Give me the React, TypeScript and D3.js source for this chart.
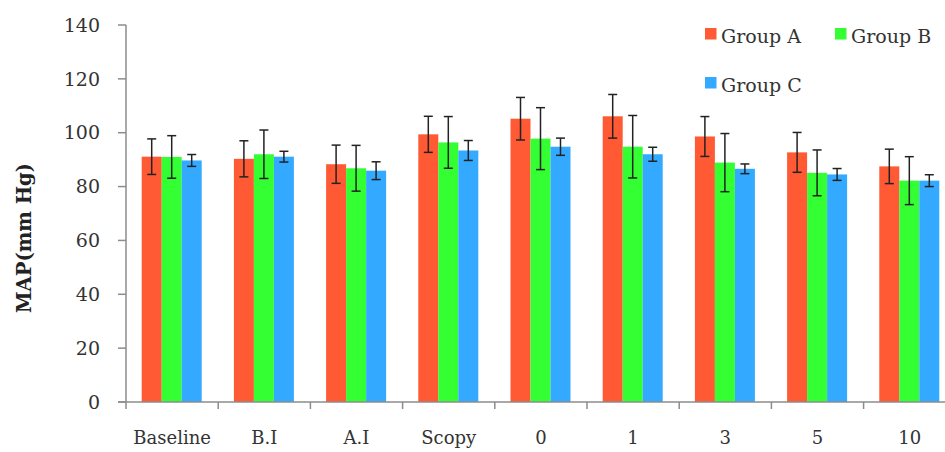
import React from "react";
import * as d3 from "d3";

const categories = ["Baseline", "B.I", "A.I", "Scopy", "0", "1", "3", "5", "10"];
const seriesNames = ["Group A", "Group B", "Group C"];
const groupA = [91.1, 90.3, 88.3, 99.4, 105.2, 106.1, 98.6, 92.7, 87.5];
const groupB = [91.0, 92.0, 86.8, 96.4, 97.8, 94.8, 88.9, 85.1, 82.2];
const groupC = [89.7, 91.1, 85.9, 93.4, 94.8, 92.0, 86.6, 84.5, 82.2];
const errA = [6.6, 6.7, 7.1, 6.7, 7.9, 8.1, 7.4, 7.4, 6.4];
const errB = [7.9, 9.0, 8.5, 9.6, 11.5, 11.6, 10.8, 8.5, 8.9];
const errC = [2.2, 2.0, 3.3, 3.7, 3.2, 2.6, 1.8, 2.2, 2.2];
const yTicks = [0, 20, 40, 60, 80, 100, 120, 140];
const colors = ["#FF5A33", "#33FF33", "#33AAFF"];

const values = [groupA, groupB, groupC];
const errors = [errA, errB, errC];

export default function App() {
  const W = 945, H = 452;
  const x0 = 126, yBottom = 402, yTop = 25;
  const step = 92.2;
  const x = d3.scaleBand<string>().domain(categories).range([x0, x0 + step * categories.length]).paddingInner(0).paddingOuter(0);
  const inner = d3.scaleBand<string>().domain(seriesNames).range([15.7, 75.7]);
  const y = d3.scaleLinear().domain([0, 140]).range([yBottom, yTop]);
  const font = "'DejaVu Serif', serif";
  const cap = 4.5;

  return (
    <svg width={W} height={H} style={{ position: "absolute", left: 0, top: 0, background: "#fff" }}>
      <rect x={0} y={0} width={W} height={H} fill="#fff" />
      {categories.map((c, i) =>
        seriesNames.map((s, k) => {
          const v = values[k][i];
          const bx = (x(c) as number) + (inner(s) as number);
          return (
            <rect key={c + s} x={bx} y={y(v)} width={inner.bandwidth()} height={y(0) - y(v)} fill={colors[k]} />
          );
        })
      )}
      {categories.map((c, i) =>
        seriesNames.map((s, k) => {
          const v = values[k][i];
          const e = errors[k][i];
          const cx = (x(c) as number) + (inner(s) as number) + inner.bandwidth() / 2;
          return (
            <g key={"e" + c + s} stroke="#222" strokeWidth={1.5}>
              <line x1={cx} x2={cx} y1={y(v + e)} y2={y(v - e)} />
              <line x1={cx - cap} x2={cx + cap} y1={y(v + e)} y2={y(v + e)} />
              <line x1={cx - cap} x2={cx + cap} y1={y(v - e)} y2={y(v - e)} />
            </g>
          );
        })
      )}
      <line x1={x0} x2={x0} y1={yTop} y2={yBottom} stroke="#8c8c8c" strokeWidth={1.5} />
      {yTicks.map((t) => (
        <g key={t}>
          <line x1={x0 - 8} x2={x0} y1={y(t)} y2={y(t)} stroke="#8c8c8c" strokeWidth={1.5} />
          <text x={100} y={y(t)} dy="0.35em" textAnchor="end" fontFamily={font} fontSize={19} fill="#333">
            {t}
          </text>
        </g>
      ))}
      <line x1={x0 - 8} x2={W} y1={yBottom} y2={yBottom} stroke="#8c8c8c" strokeWidth={1.5} />
      {categories.map((c) => (
        <g key={"xt" + c}>
          <line x1={x(c) as number} x2={x(c) as number} y1={yBottom} y2={yBottom + 7} stroke="#8c8c8c" strokeWidth={1.5} />
          <text x={(x(c) as number) + x.bandwidth() / 2} y={444} textAnchor="middle" fontFamily={font} fontSize={18} fill="#333">
            {c}
          </text>
        </g>
      ))}
      <text
        transform={`translate(31, ${238}) rotate(-90)`}
        textAnchor="middle"
        fontFamily={font}
        fontSize={19.5}
        fontWeight="bold"
        fill="#222"
      >
        MAP(mm Hg)
      </text>
      {seriesNames.map((s, k) => {
        const lx = k === 1 ? 835 : 705;
        const ly = k === 2 ? 77 : 28;
        return (
          <g key={"lg" + s}>
            <rect x={lx} y={ly} width={11.5} height={11.5} fill={colors[k]} />
            <text x={lx + 16} y={ly + 15} fontFamily={font} fontSize={19} fill="#333">
              {s}
            </text>
          </g>
        );
      })}
    </svg>
  );
}
